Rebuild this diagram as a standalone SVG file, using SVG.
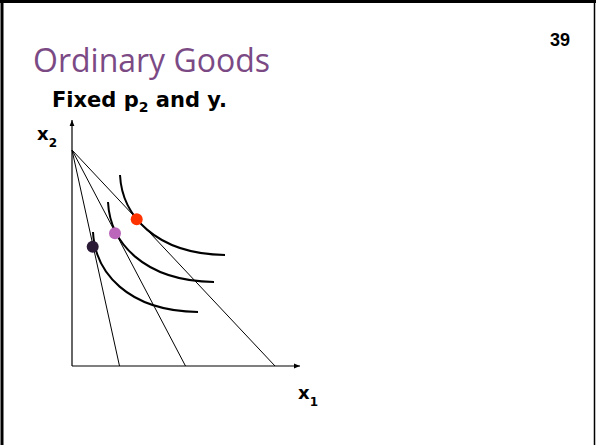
<svg xmlns="http://www.w3.org/2000/svg" width="596" height="445" viewBox="0 0 596 445">
<defs>
<style>
.ax{stroke:#000;stroke-width:1.2;fill:none}
.bl{stroke:#000;stroke-width:1;fill:none}
.ic{stroke:#000;stroke-width:2;fill:none}
.lbl{font-family:"DejaVu Sans","Liberation Sans",sans-serif;font-weight:bold;fill:#000}
</style>
<marker id="arr" viewBox="0 0 10 10" refX="10" refY="5" markerWidth="6" markerHeight="6" orient="auto" markerUnits="userSpaceOnUse">
<path d="M0,1 L10,5 L0,9 Z" fill="#000"/>
</marker>
</defs>
<rect x="0" y="0" width="596" height="445" fill="#fff"/>
<g id="frame">
<line x1="0" y1="1.5" x2="596" y2="1.5" stroke="#000" stroke-width="3"/>
<line x1="2" y1="0" x2="2" y2="445" stroke="#000" stroke-width="3"/>
<line x1="594.5" y1="0" x2="594.5" y2="445" stroke="#000" stroke-width="1.5"/>
</g>
<g id="title">
<text x="33" y="72" font-family="'Open Sans',Lato,sans-serif" font-size="32" fill="#7b4a85">Ordinary Goods</text>
</g>
<g id="pagenum">
<text x="550" y="46" font-family="'Liberation Sans',Arial,sans-serif" font-weight="bold" font-size="18" fill="#000">39</text>
</g>
<g id="subtitle">
<text x="52" y="107" class="lbl" font-size="21">Fixed p<tspan font-size="14" dy="5">2</tspan><tspan dy="-5"> and y.</tspan></text>
</g>
<g id="axes">
<line class="ax" x1="72" y1="366" x2="72" y2="120" marker-end="url(#arr)"/>
<line class="ax" x1="72" y1="366" x2="300" y2="366" marker-end="url(#arr)"/>
</g>
<g id="x2-label"><text x="37" y="140" class="lbl" font-size="18">x<tspan font-size="12" dy="7">2</tspan></text></g>
<g id="x1-label"><text x="298" y="399" class="lbl" font-size="18">x<tspan font-size="12" dy="7">1</tspan></text></g>
<g id="connectors">
<line class="bl" x1="72" y1="150" x2="119.5" y2="366"/>
<line class="bl" x1="72" y1="150" x2="185.5" y2="366"/>
<line class="bl" x1="72" y1="150" x2="275" y2="366"/>
</g>
<g id="indifference-curves">
<path class="ic" d="M120,175 C122,215 155,254 225,255"/>
<path class="ic" d="M108,202 C110,242 143,281 214,282"/>
<path class="ic" d="M93,232 C95,272 127,311 198,312"/>
</g>
<g id="dot-dark"><circle cx="92.7" cy="246.7" r="6" fill="#2b1a35"/></g>
<g id="dot-purple"><circle cx="115" cy="233.3" r="6" fill="#bb66bb"/></g>
<g id="dot-orange"><circle cx="136.7" cy="219.3" r="6" fill="#ff3300"/></g>
</svg>
